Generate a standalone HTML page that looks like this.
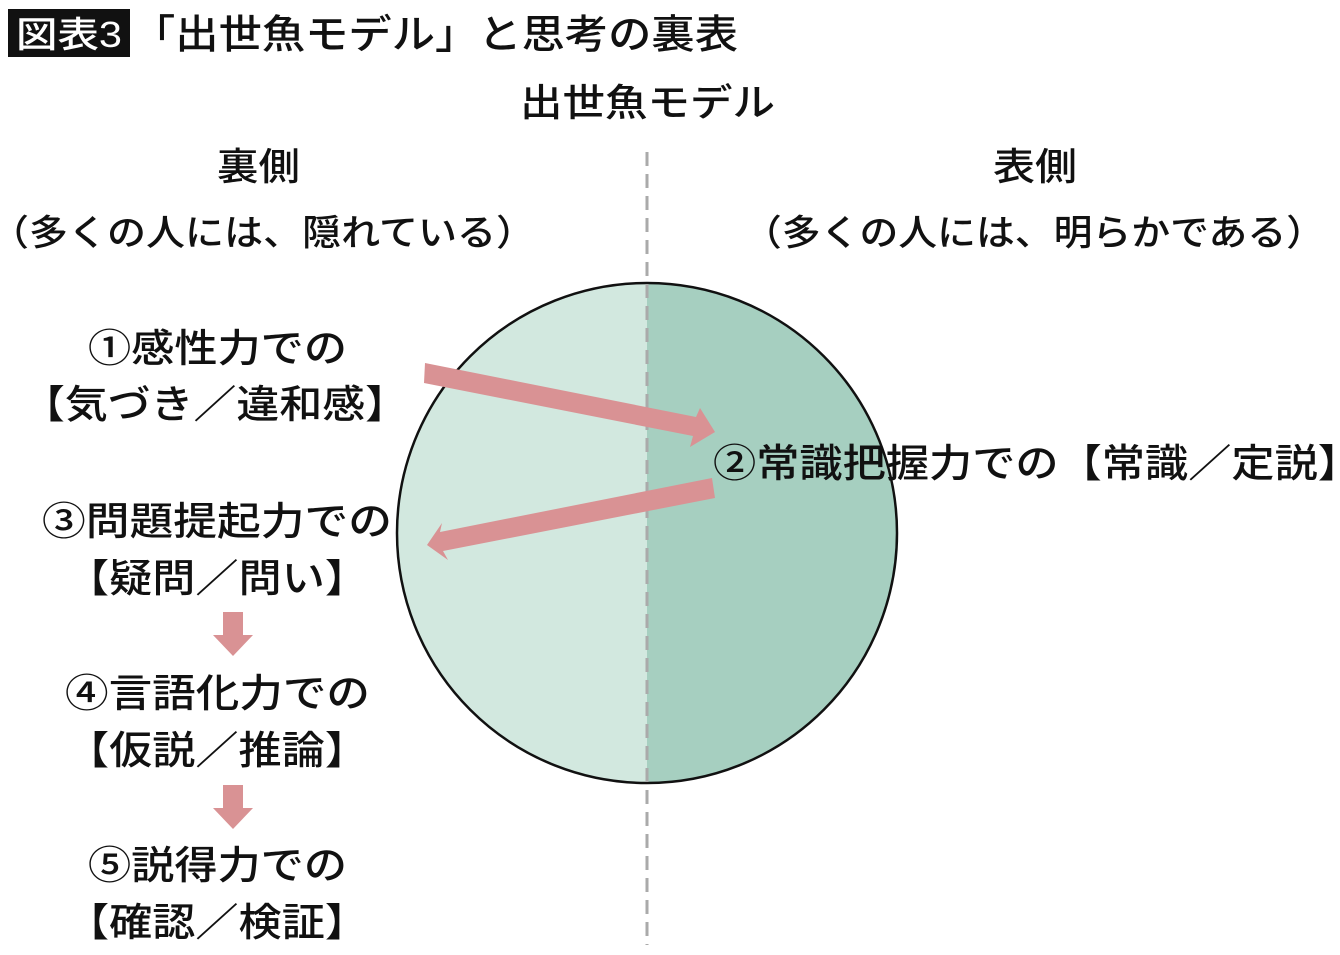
<!DOCTYPE html>
<html><head><meta charset="utf-8"><style>
html,body{margin:0;padding:0;background:#fff;}
svg{display:block;}
text{font-family:"Liberation Sans","Noto Sans CJK JP",sans-serif;fill:#111;font-weight:500;}
</style></head><body>
<svg width="1340" height="955" viewBox="0 0 1340 955">
<rect x="8" y="9" width="122" height="48" fill="#111"/>
<text x="16" y="47" font-size="36" font-weight="bold" textLength="106" lengthAdjust="spacingAndGlyphs" style="fill:#fff">図表3</text>
<text x="132" y="48" font-size="40" textLength="606" lengthAdjust="spacingAndGlyphs">「出世魚モデル」と思考の裏表</text>
<text x="520" y="116" font-size="38" textLength="255" lengthAdjust="spacingAndGlyphs">出世魚モデル</text>
<text x="217" y="180" font-size="38" textLength="83" lengthAdjust="spacingAndGlyphs">裏側</text>
<text x="993" y="180" font-size="38" textLength="84" lengthAdjust="spacingAndGlyphs">表側</text>
<text x="-10" y="245" font-size="36" textLength="545" lengthAdjust="spacingAndGlyphs">（多くの人には、隠れている）</text>
<text x="743" y="245" font-size="36" textLength="582" lengthAdjust="spacingAndGlyphs">（多くの人には、明らかである）</text>
<path d="M647 283 A250 250 0 0 0 647 783 Z" fill="#d2e8df"/>
<path d="M647 283 A250 250 0 0 1 647 783 Z" fill="#a6cfc0"/>
<circle cx="647" cy="533" r="250" fill="none" stroke="#111" stroke-width="2.5"/>
<line x1="647" y1="152" x2="647" y2="945" stroke="#aaa" stroke-width="3" stroke-dasharray="14,8"/>
<polygon points="425,363 696,417 700,408 715,432 690,447 693,436 424,383" fill="#d99294"/>
<polygon points="712,478 715,498 443,551 448,560 427,545 442,523 440,532" fill="#d99294"/>
<text x="88" y="362" font-size="39" textLength="259" lengthAdjust="spacingAndGlyphs">①感性力での</text>
<text x="22" y="418" font-size="39" textLength="386" lengthAdjust="spacingAndGlyphs">【気づき／違和感】</text>
<text x="713" y="477" font-size="39" textLength="648" lengthAdjust="spacingAndGlyphs">②常識把握力での【常識／定説】</text>
<text x="42" y="535" font-size="39" textLength="350" lengthAdjust="spacingAndGlyphs">③問題提起力での</text>
<text x="66" y="592" font-size="39" textLength="302" lengthAdjust="spacingAndGlyphs">【疑問／問い】</text>
<polygon points="223,612 243,612 243,635 253,635 233,656 213,635 223,635" fill="#d99294"/>
<text x="65" y="707" font-size="39" textLength="305" lengthAdjust="spacingAndGlyphs">④言語化力での</text>
<text x="66" y="764" font-size="39" textLength="302" lengthAdjust="spacingAndGlyphs">【仮説／推論】</text>
<polygon points="223,785 243,785 243,808 253,808 233,829 213,808 223,808" fill="#d99294"/>
<text x="88" y="879" font-size="39" textLength="259" lengthAdjust="spacingAndGlyphs">⑤説得力での</text>
<text x="66" y="936" font-size="39" textLength="302" lengthAdjust="spacingAndGlyphs">【確認／検証】</text>
</svg>
</body></html>
